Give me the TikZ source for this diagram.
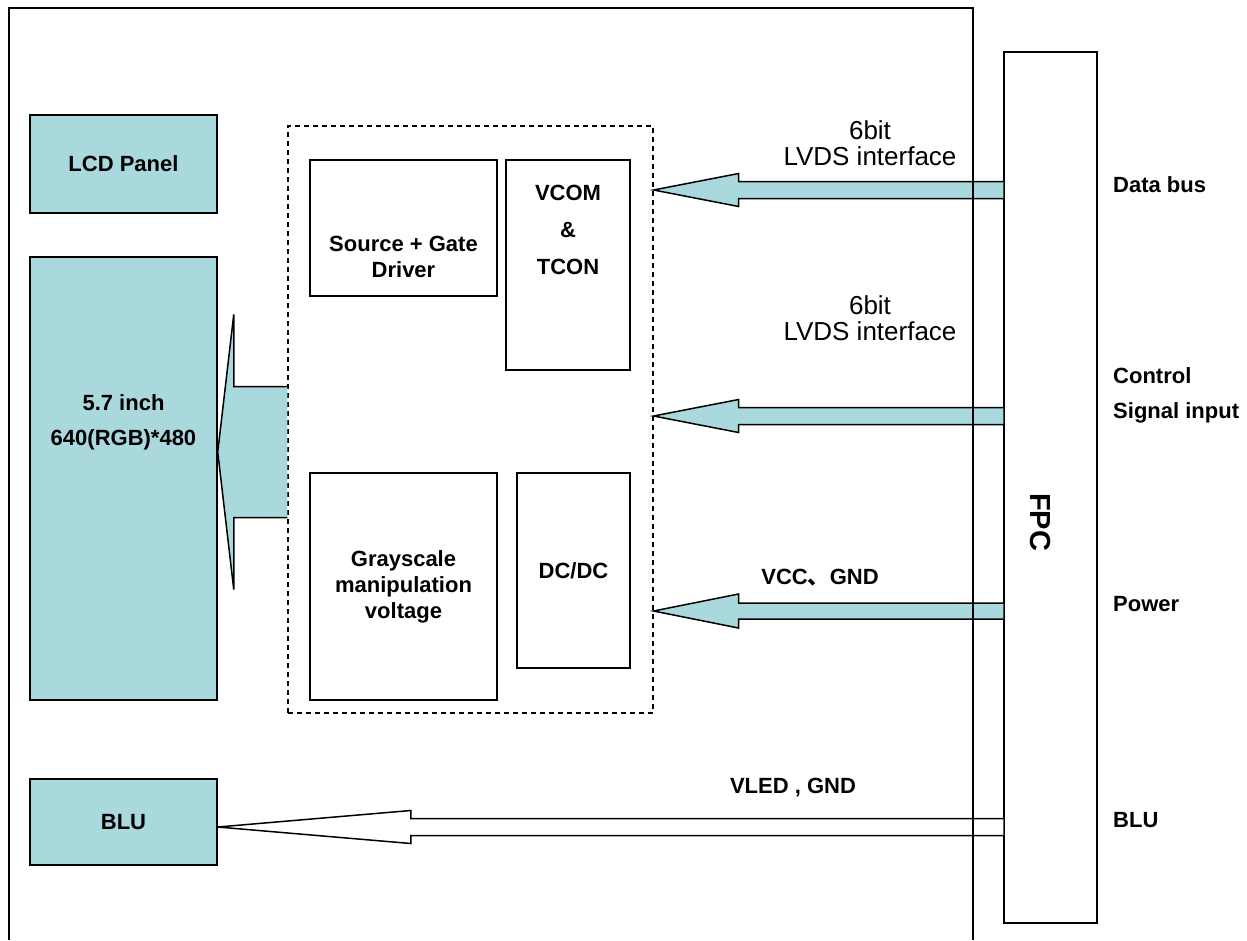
\documentclass[tikz,border=0pt]{standalone}
\usepackage{fontspec}
\setmainfont{Liberation Sans}
\newfontfamily\cjk{Noto Sans CJK SC}
\usepackage{xcolor}
\usetikzlibrary{calc}

\definecolor{lcdteal}{RGB}{170,217,221}

% fat arrow pointing left: tip, tail, head length, head half height, shaft half height
\newcommand{\blockarrow}[6][]{%
  \fill[#1] let \p1=(#2), \p2=(#3) in
    (\x1,\y1) -- (\x1+#4,\y1+#5) -- (\x1+#4,\y1+#6) -- (\x2,\y1+#6)
    -- (\x2,\y1-#6) -- (\x1+#4,\y1-#6) -- (\x1+#4,\y1-#5) -- cycle;
  \draw[line width=1.5pt] let \p1=(#2), \p2=(#3) in
    (\x2,\y1+#6) -- (\x1+#4,\y1+#6) -- (\x1+#4,\y1+#5) -- (\x1,\y1)
    -- (\x1+#4,\y1-#5) -- (\x1+#4,\y1-#6) -- (\x2,\y1-#6);}

\begin{document}
\begin{tikzpicture}[
    x=1pt, y=-1pt,
    box/.style={draw, line width=1.5pt, inner sep=0pt, align=center, font=\bfseries\fontsize{22}{26}\selectfont},
    panel/.style={box, fill=lcdteal},
    chip/.style={box, fill=white},
    txt/.style={align=center, inner sep=0pt, font=\bfseries\fontsize{22}{26}\selectfont},
    note/.style={align=center, inner sep=0pt, font=\fontsize{26}{26}\selectfont},
    tag/.style={anchor=west, inner sep=0pt, font=\bfseries\fontsize{22}{26}\selectfont}
]
    \useasboundingbox[fill=white] (0,0) rectangle (1247,940);

    % left column
    \node[panel, minimum width=187pt, minimum height=98pt] (lcd) at (123.5,164) {LCD Panel};
    \node[panel, minimum width=187pt, minimum height=443pt] (glass) at (123.5,478.5) {};
    \node[txt] (glasstxt) at (123.5,422) {5.7 inch\\[9pt]640(RGB)*480};
    \node[panel, minimum width=187pt, minimum height=86pt] (blu) at (123.5,822) {BLU};

    % driver block
    \node[draw, line width=1.2pt, dash pattern=on 5pt off 4pt, minimum width=365pt, minimum height=587pt] (drv) at (470.5,419.5) {};
    \node[chip, minimum width=187pt, minimum height=136pt] (src) at (403.5,228) {};
    \node[txt] (srctxt) at (403.5,257) {Source + Gate\\Driver};
    \node[chip, minimum width=124pt, minimum height=210pt] (vcom) at (568,265) {};
    \node[txt] (vcomtxt) at (568,230) {VCOM\\[11pt]\&\\[11pt]TCON};
    \node[chip, minimum width=187pt, minimum height=227pt] (gray) at (403.5,586.5) {Grayscale\\manipulation\\voltage};
    \node[chip, minimum width=113pt, minimum height=195pt] (dcdc) at (573.5,570.5) {DC/DC};

    % connector
    \node[draw, line width=1.5pt, minimum width=93pt, minimum height=871pt] (fpc) at (1050.5,487.5) {};
    \node[txt, rotate=-90, font=\bfseries\fontsize{29}{30}\selectfont] (fpctxt) at (1040,522) {FPC};

    \node[tag] (tdata) at (1113,185) {Data bus};
    \node[tag] (tctrl) at (1113,376) {Control};
    \node[tag] (tsig) at (1113,413) {Signal input};
    \node[tag] (tpow) at (1113,604) {Power};
    \node[tag] (tblu) at (1113,820) {BLU};

    % arrows
    \blockarrow[fill=lcdteal]{glass.east |- 0,452}{drv.west |- 0,452}{16pt}{137.5pt}{65.5pt}
    \blockarrow[fill=lcdteal]{drv.east |- 0,190}{fpc.west |- 0,190}{85pt}{16.5pt}{8.5pt}
    \blockarrow[fill=lcdteal]{drv.east |- 0,416}{fpc.west |- 0,416}{85pt}{16.5pt}{8.5pt}
    \blockarrow[fill=lcdteal]{drv.east |- 0,611}{fpc.west |- 0,611}{85pt}{17pt}{8pt}
    \blockarrow[fill=white]{blu.east |- 0,827}{fpc.west |- 0,827}{193pt}{16.5pt}{8.5pt}

    \node[note] (lvdsa) at (870,143) {6bit\\LVDS interface};
    \node[note] (lvdsb) at (870,318) {6bit\\LVDS interface};
    \node[txt] (vcc) at (820,578) {VCC{\cjk 、}GND};
    \node[txt] (vled) at (793,788) {VLED , GND};

    % outer frame, open at the bottom
    \draw[line width=1.5pt] (9,940) -- (9,8) -- (973,8) -- (973,940);
\end{tikzpicture}
\end{document}
